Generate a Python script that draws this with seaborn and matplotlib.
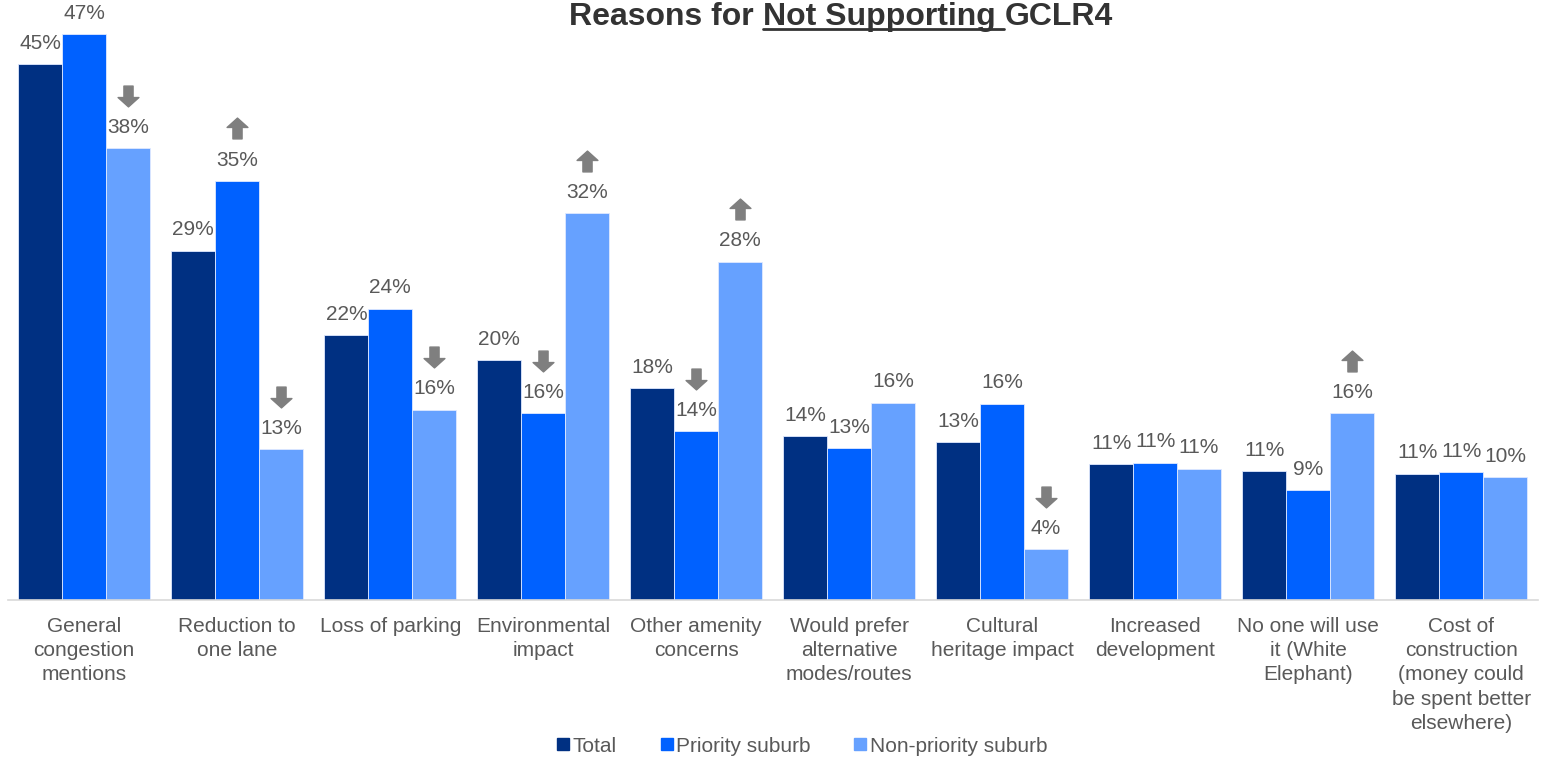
import pandas as pd
import numpy as np
import matplotlib
matplotlib.use('Agg')
import matplotlib.pyplot as plt
import matplotlib.transforms as mtransforms
from matplotlib.path import Path
from matplotlib.lines import Line2D
import seaborn as sns

# data
reasons = ['General\ncongestion\nmentions', 'Reduction to\none lane', 'Loss of parking',
           'Environmental\nimpact', 'Other amenity\nconcerns', 'Would prefer\nalternative\nmodes/routes',
           'Cultural\nheritage impact', 'Increased\ndevelopment', 'No one will use\nit (White\nElephant)',
           'Cost of\nconstruction\n(money could\nbe spent better\nelsewhere)']
groups = ['Total', 'Priority suburb', 'Non-priority suburb']
total = [44.5, 29.0, 22.0, 19.9, 17.6, 13.6, 13.1, 11.3, 10.7, 10.5]
priority = [47.0, 34.8, 24.2, 15.5, 14.0, 12.6, 16.3, 11.4, 9.1, 10.6]
non_priority = [37.5, 12.5, 15.8, 32.1, 28.1, 16.4, 4.2, 10.9, 15.5, 10.2]
label_total = ['45%', '29%', '22%', '20%', '18%', '14%', '13%', '11%', '11%', '11%']
label_priority = ['47%', '35%', '24%', '16%', '14%', '13%', '16%', '11%', '9%', '11%']
label_non = ['38%', '13%', '16%', '32%', '28%', '16%', '4%', '11%', '16%', '10%']
# significance arrows: 1 = up, -1 = down, 0 = none
arrows_priority = [0, 1, 0, -1, -1, 0, 0, 0, 0, 0]
arrows_non = [-1, -1, -1, 1, 1, 0, -1, 0, 1, 0]

colors = ['#003082', '#0061FF', '#66A1FF']
grey = '#595959'

df = pd.DataFrame({
    'reason': reasons * 3,
    'group': [g for g in groups for _ in reasons],
    'pct': total + priority + non_priority,
})

sns.set_style('white')
plt.rcParams['font.family'] = ['Liberation Sans', 'DejaVu Sans']

fig = plt.figure(figsize=(15.5, 7.58), dpi=100)
ax = fig.add_axes([0.005, 0.2084, 0.987, 0.7786])

sns.barplot(data=df, x='reason', y='pct', hue='group', palette=colors, saturation=1,
            width=0.86, ax=ax, legend=False, edgecolor='#dfe9ff', linewidth=0.6)
ax.set_ylim(0, 49.0)
ax.set_xlim(-0.5, 9.5)
ax.set_xlabel('')
ax.set_ylabel('')
ax.set_yticks([])
sns.despine(ax=ax, left=True)
ax.spines['bottom'].set_color('#d9d9d9')
ax.spines['bottom'].set_linewidth(1.2)
ax.tick_params(axis='x', length=0, pad=12, labelsize=15, labelcolor=grey)
for t in ax.get_xticklabels():
    t.set_linespacing(1.36)

# block arrow marker
arrow_up = Path([(-0.22, -0.5), (0.22, -0.5), (0.22, 0.05), (0.5, 0.05), (0.0, 0.5),
                 (-0.5, 0.05), (-0.22, 0.05), (-0.22, -0.5)],
                [Path.MOVETO] + [Path.LINETO] * 6 + [Path.CLOSEPOLY])
arrow_down = Path(arrow_up.vertices * np.array([1, -1]), arrow_up.codes)

label_sets = [label_total, label_priority, label_non]
arrow_sets = [[0] * len(reasons), arrows_priority, arrows_non]
lab_off = mtransforms.offset_copy(ax.transData, fig=fig, y=15, units='points')
arr_off = mtransforms.offset_copy(ax.transData, fig=fig, y=38, units='points')
for cont, labs, arrs in zip(ax.containers, label_sets, arrow_sets):
    for bar, lab, a in zip(cont, labs, arrs):
        x = bar.get_x() + bar.get_width() / 2
        h = bar.get_height()
        ax.text(x, h, lab, transform=lab_off, ha='center', va='center', fontsize=15, color=grey)
        if a != 0:
            ax.plot(x, h, marker=arrow_up if a > 0 else arrow_down, markersize=15,
                    color='#7f7f7f', transform=arr_off, clip_on=False)

# legend
handles = [Line2D([], [], marker='s', linestyle='', color=c, markersize=9) for c in colors]
fig.legend(handles, groups, loc='center', bbox_to_anchor=(801 / 1550, 1 - 746 / 758), ncol=3,
           frameon=False, fontsize=15, labelcolor=grey, handletextpad=0.05,
           columnspacing=2.0, handlelength=0.8)

# title with underlined middle part
renderer = fig.canvas.get_renderer()
parts = ['Reasons for ', 'Not Supporting ', 'GCLR4']
tstyle = dict(fontsize=23, fontweight='bold', color='#333333', va='baseline', ha='left')
tmp = [fig.text(0, 0, p, **tstyle) for p in parts]
widths = [t.get_window_extent(renderer).width for t in tmp]
for t in tmp:
    t.remove()
W = fig.bbox.width
Hf = fig.bbox.height
x0 = 841 - sum(widths) / 2
base_y = 1 - 25 / 758
xpos = x0
for p, w in zip(parts, widths):
    fig.text(xpos / W, base_y, p, **tstyle)
    if p.startswith('Not'):
        fig.add_artist(Line2D([xpos / W, (xpos + w) / W], [base_y - 4 / Hf] * 2,
                              color='#333333', linewidth=2))
    xpos += w

fig.savefig('out.png', dpi=100)
